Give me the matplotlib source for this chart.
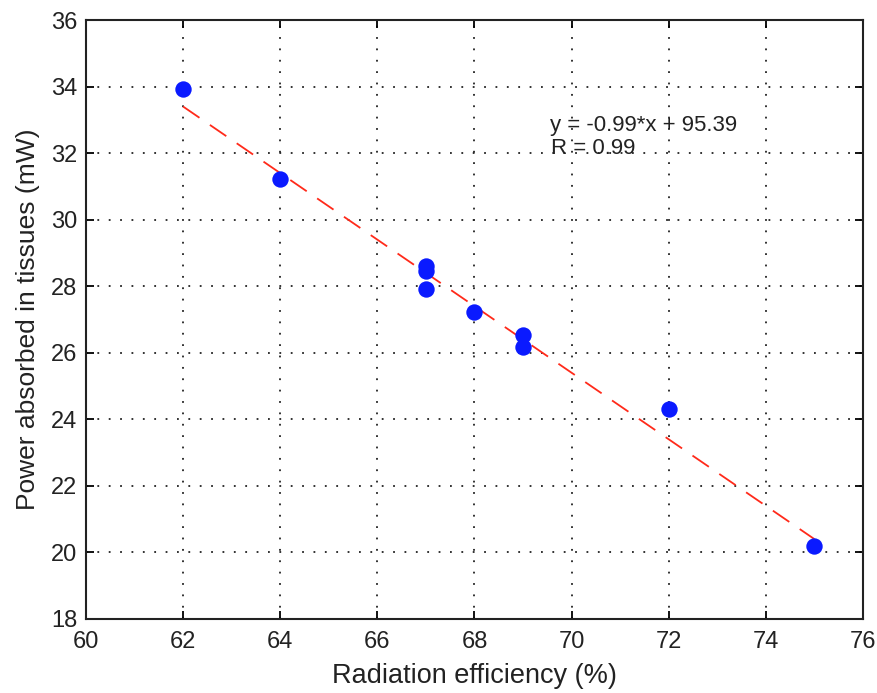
import matplotlib
matplotlib.use("Agg")
import matplotlib.pyplot as plt

# data
efficiency = [62, 64, 67, 67, 67, 68, 69, 69, 72, 75]
power = [33.92, 31.21, 28.6, 28.45, 27.92, 27.23, 26.53, 26.18, 24.30, 20.2]

# fitted line as drawn
fit_x = [62, 75]
fit_y = [33.4, 20.4]

eq_text = "y = -0.99*x + 95.39"
r_text = "R = 0.99"

plt.rcParams['font.family'] = ['Liberation Sans', 'DejaVu Sans']

fig = plt.figure(figsize=(8.78, 6.93), dpi=100)
ax = fig.add_axes([0.0979, 0.1068, 0.885, 0.8643])

ax.plot(fit_x, fit_y, color='#ff2a1a', linewidth=1.3, dashes=(11, 7), zorder=2)
ax.plot(efficiency, power, 'o', color='#0a1aff', markersize=11.8, markeredgewidth=0, zorder=3)

ax.text(69.55, 32.68, eq_text, fontsize=16, color='#222222', va='baseline', ha='left')
ax.text(69.58, 31.97, r_text, fontsize=16, color='#222222', va='baseline', ha='left')

ax.set_xlim(60, 76)
ax.set_ylim(18, 36)
ax.set_xticks(range(60, 77, 2))
ax.set_yticks(range(18, 37, 2))

ax.grid(True, color='#222222', linestyle=(0, (1, 5.3)), linewidth=1.3)
ax.tick_params(direction='in', length=6, width=1.3, top=True, right=True,
               labelsize=17, labelcolor='#222222', pad=6)
ax.tick_params(axis='x', pad=9)
for s in ax.spines.values():
    s.set_linewidth(1.5)
    s.set_color('#222222')

ax.set_xlabel('Radiation efficiency (%)', fontsize=19.5, color='#222222', labelpad=7)
ax.set_ylabel('Power absorbed in tissues (mW)', fontsize=19, color='#222222', labelpad=8)

fig.savefig('out.png', dpi=100)
